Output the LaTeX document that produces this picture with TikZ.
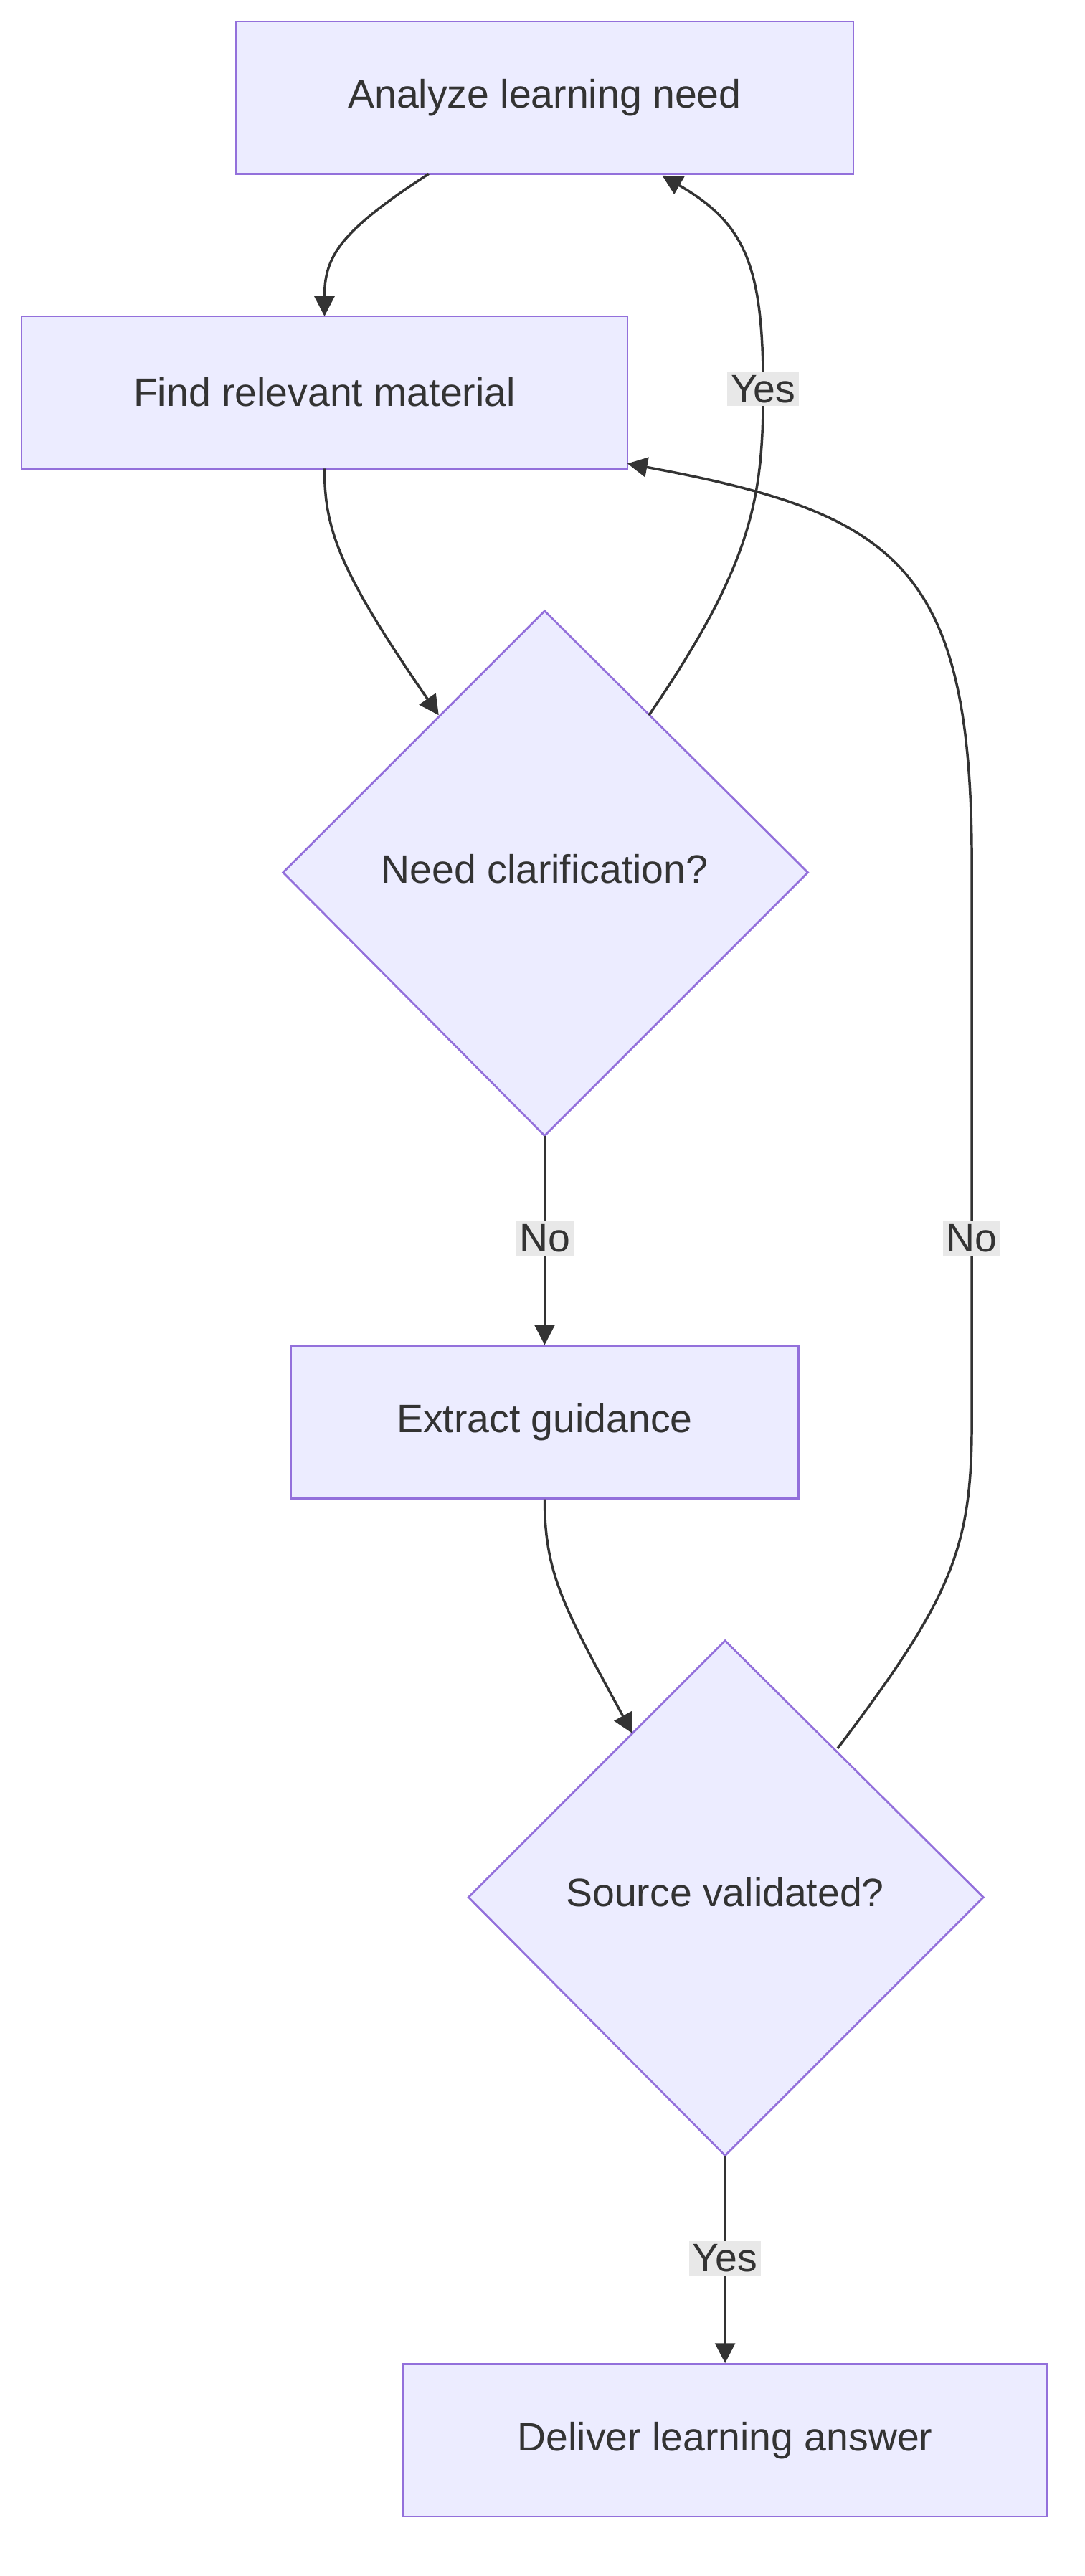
\documentclass[tikz,border=0pt]{standalone}
\usepackage{fontspec}
\setmainfont{Liberation Sans}
\usetikzlibrary{shapes.geometric,arrows.meta}
\definecolor{nodefill}{HTML}{ECECFF}
\definecolor{nodeline}{HTML}{9370DB}
\definecolor{edge}{HTML}{333333}
\definecolor{lbl}{HTML}{E8E8E8}
\begin{document}
\begin{tikzpicture}[x=1pt,y=-1pt,
  box/.style={draw=nodeline,fill=nodefill,line width=1.2pt,text=edge,font=\fontsize{24}{28}\selectfont},
  lab/.style={fill=lbl,text=edge,font=\fontsize{24}{28}\selectfont,inner sep=2pt},
  conn/.style={draw=edge,line width=1.5pt,-{Triangle[length=12pt,width=12pt]}},
  plain/.style={draw=edge,line width=1.5pt}]
\useasboundingbox (0,0) rectangle (655,1556);
\node[box,minimum width=373pt,minimum height=92pt] (a) at (329,59) {Analyze learning need};
\node[box,minimum width=366pt,minimum height=92pt] (f) at (196,237) {Find relevant material};
\draw[box] (329,369) -- (488,527) -- (329,686) -- (171,527) -- cycle;
\node[text=edge,font=\fontsize{24}{28}\selectfont] (d1) at (329,525) {Need clarification?};
\node[box,minimum width=307pt,minimum height=92pt] (e) at (329,859) {Extract guidance};
\draw[box] (438,991) -- (594,1146) -- (438,1302) -- (283,1146) -- cycle;
\node[text=edge,font=\fontsize{24}{28}\selectfont] (d2) at (438,1143) {Source validated?};
\node[box,minimum width=389pt,minimum height=92pt] (g) at (438,1474) {Deliver learning answer};
\coordinate (d1t) at (329,369); \coordinate (d1b) at (329,686);
\coordinate (d1l) at (265,432); \coordinate (d1r) at (392,432);
\coordinate (d2t) at (438,991); \coordinate (d2b) at (438,1302);
\coordinate (d2l) at (382,1047); \coordinate (d2r) at (506,1056);
\draw[conn] (259,105) .. controls (205,140) and (196,155) .. (196,191);
\draw[conn] (196,283) .. controls (196,320) and (205,345) .. (d1l);
\draw[conn] (d1r) .. controls (455,340) and (461,300) .. (461,235) .. controls (461,160) and (450,135) .. (400,106);
\draw[conn] (d1b) -- (e.north);
\draw[conn] (e.south) .. controls (329,950) and (340,970) .. (d2l);
\draw[conn] (d2r) .. controls (575,965) and (587,935) .. (587,860) -- (587,520) .. controls (587,340) and (540,310) .. (379,280);
\draw[conn] (d2b) -- (g.north);
\node[lab] (y1) at (461,235) {Yes};
\node[lab] (n1) at (329,748) {No};
\node[lab] (n2) at (587,748) {No};
\node[lab] (y2) at (438,1364) {Yes};
\end{tikzpicture}
\end{document}
